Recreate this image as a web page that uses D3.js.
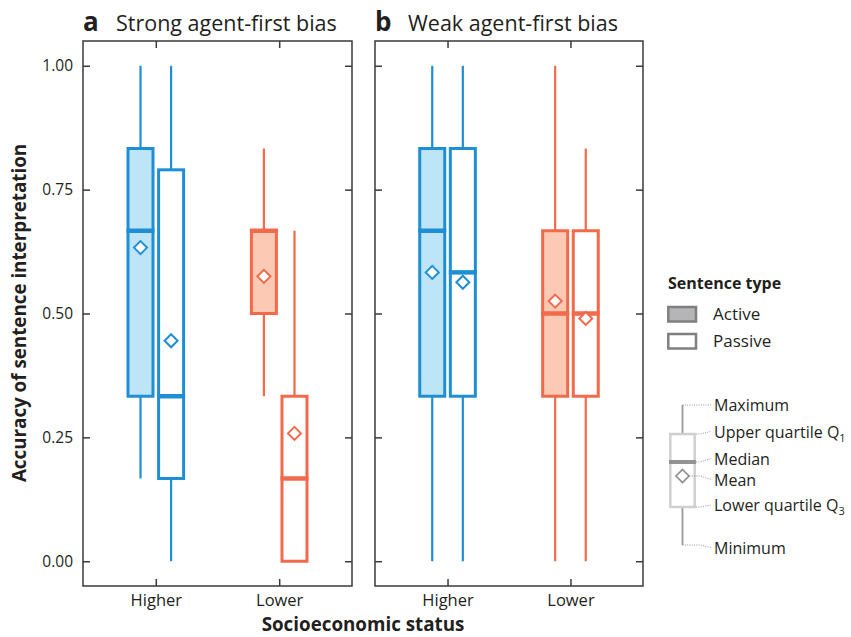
<!DOCTYPE html>
<html><head><meta charset="utf-8">
<script src="https://cdn.jsdelivr.net/npm/d3@7"></script>
<style>body{margin:0;background:#fff}svg{display:block}text{font-family:"Open Sans",sans-serif;fill:#231f20}</style>
</head><body>
<script>
// ---- data ----
const panelLetters = ["a", "b"];
const panelTitles = ["Strong agent-first bias", "Weak agent-first bias"];
const categories = ["Higher", "Lower"];
const sentenceTypes = ["Active", "Passive"];
const yTicks = [0, 0.25, 0.5, 0.75, 1.0];
// order per panel: Higher-Active, Higher-Passive, Lower-Active, Lower-Passive
const minimum       = [[0.167, 0.000, 0.333, 0.000], [0.000, 0.000, 0.000, 0.000]];
const lowerQuartile = [[0.333, 0.167, 0.500, 0.000], [0.333, 0.333, 0.333, 0.333]];
const median        = [[0.667, 0.333, 0.667, 0.167], [0.667, 0.583, 0.500, 0.500]];
const upperQuartile = [[0.833, 0.790, 0.667, 0.333], [0.833, 0.833, 0.667, 0.667]];
const maximum       = [[1.000, 1.000, 0.833, 0.667], [1.000, 1.000, 1.000, 0.833]];
const mean          = [[0.633, 0.445, 0.575, 0.258], [0.583, 0.563, 0.525, 0.490]];
const legendParts = ["Maximum", "Upper quartile Q|1", "Median", "Mean", "Lower quartile Q|3", "Minimum"];

const strokeCol = {Higher: "#1e8fd5", Lower: "#f2694b"};
const fillCol = {Higher: "#bde4f7", Lower: "#fbc9b4"};

const W = 851, H = 637;
const svg = d3.select("body").append("svg").attr("width", W).attr("height", H);

const plotTop = 41, plotBottom = 586;
const panelX = [[83, 352], [375, 643]];
const y = d3.scaleLinear().domain([-0.05, 1.05]).range([plotBottom, plotTop]);

panelX.forEach((px, pi) => {
  const g = svg.append("g");
  const x = d3.scalePoint().domain(categories).range(px).padding(0.59);
  const off = d3.scalePoint().domain(sentenceTypes).range([-15.3, 15.3]);
  g.append("rect").attr("x", px[0]).attr("y", plotTop).attr("width", px[1] - px[0]).attr("height", plotBottom - plotTop)
    .attr("fill", "none").attr("stroke", "#3a3a3a").attr("stroke-width", 1.5);
  const tl = 7;
  const axL = d3.axisLeft(y).tickValues(yTicks).tickSizeInner(-tl).tickSizeOuter(0).tickFormat(pi === 0 ? d3.format(".2f") : () => "");
  const gl = g.append("g").attr("transform", `translate(${px[0]},0)`).call(axL);
  const axR = d3.axisRight(y).tickValues(yTicks).tickSizeInner(-tl).tickSizeOuter(0).tickFormat(() => "");
  const gr = g.append("g").attr("transform", `translate(${px[1]},0)`).call(axR);
  const axB = d3.axisBottom(x).tickSizeInner(-tl).tickSizeOuter(0);
  const gb = g.append("g").attr("transform", `translate(0,${plotBottom})`).call(axB);
  const axT = d3.axisTop(x).tickSizeInner(-tl).tickSizeOuter(0).tickFormat(() => "");
  const gt = g.append("g").attr("transform", `translate(0,${plotTop})`).call(axT);
  [gl, gr, gb, gt].forEach(a => {
    a.select(".domain").remove();
    a.selectAll("line").attr("stroke", "#3a3a3a").attr("stroke-width", 1.5);
    a.selectAll("text").attr("font-family", "'Open Sans',sans-serif").attr("fill", "#231f20");
  });
  gl.selectAll("text").attr("font-size", 15.5).attr("x", -10);
  gb.selectAll("text").attr("font-size", 16.5).attr("y", 8);

  svg.append("text").attr("x", px[0]).attr("y", 31).attr("font-size", 26).attr("font-weight", "bold").text(panelLetters[pi]);
  svg.append("text").attr("x", px[0] + 33).attr("y", 31).attr("font-size", 21.5).text(panelTitles[pi]);

  const bw = 25;
  categories.forEach((c, ci) => {
    sentenceTypes.forEach((s, si) => {
      const k = ci * 2 + si;
      const cx = x(c) + off(s);
      const col = strokeCol[c];
      g.append("line").attr("x1", cx).attr("x2", cx).attr("y1", y(maximum[pi][k])).attr("y2", y(upperQuartile[pi][k]))
        .attr("stroke", col).attr("stroke-width", 2.2);
      g.append("line").attr("x1", cx).attr("x2", cx).attr("y1", y(lowerQuartile[pi][k])).attr("y2", y(minimum[pi][k]))
        .attr("stroke", col).attr("stroke-width", 2.2);
      g.append("rect").attr("x", cx - bw / 2).attr("width", bw)
        .attr("y", y(upperQuartile[pi][k])).attr("height", y(lowerQuartile[pi][k]) - y(upperQuartile[pi][k]))
        .attr("fill", si === 0 ? fillCol[c] : "#fff").attr("stroke", col).attr("stroke-width", 3);
      g.append("line").attr("x1", cx - bw / 2 - 1.5).attr("x2", cx + bw / 2 + 1.5)
        .attr("y1", y(median[pi][k])).attr("y2", y(median[pi][k]))
        .attr("stroke", col).attr("stroke-width", 4.5);
      const d = 6.5, my = y(mean[pi][k]);
      g.append("path").attr("d", `M${cx},${my - d}L${cx + d},${my}L${cx},${my + d}L${cx - d},${my}Z`)
        .attr("fill", "#fff").attr("stroke", col).attr("stroke-width", 2);
    });
  });
});

svg.append("text").attr("transform", `translate(26,${313}) rotate(-90)`)
  .attr("text-anchor", "middle").attr("font-weight", "bold").attr("font-size", 18.8)
  .text("Accuracy of sentence interpretation");
svg.append("text").attr("x", 363).attr("y", 631).attr("text-anchor", "middle")
  .attr("font-weight", "bold").attr("font-size", 18.8).text("Socioeconomic status");

const lg = svg.append("g");
lg.append("text").attr("x", 668).attr("y", 289).attr("font-weight", "bold").attr("font-size", 16).text("Sentence type");
sentenceTypes.forEach((s, i) => {
  const yy = 307 + i * 27;
  lg.append("rect").attr("x", 668.3).attr("y", yy).attr("width", 27.7).attr("height", 14.5)
    .attr("fill", i === 0 ? "#b5b5b7" : "#fff").attr("stroke", "#7f7f80").attr("stroke-width", 2.5);
  lg.append("text").attr("x", 713).attr("y", yy + 13).attr("font-size", 17).text(s);
});

const ex = svg.append("g");
const exY = [405, 434, 462, 476, 507, 545];
const bx = 682.5;
ex.append("line").attr("x1", bx).attr("x2", bx).attr("y1", exY[0]).attr("y2", exY[5]).attr("stroke", "#9a9a9a").attr("stroke-width", 1.8);
ex.append("rect").attr("x", bx - 12.2).attr("width", 24.4).attr("y", exY[1]).attr("height", exY[4] - exY[1])
  .attr("fill", "#fff").attr("stroke", "#d0d0d0").attr("stroke-width", 2.5);
ex.append("line").attr("x1", bx - 13.5).attr("x2", bx + 13.5).attr("y1", exY[2]).attr("y2", exY[2]).attr("stroke", "#939393").attr("stroke-width", 4);
const dd = 6.5;
ex.append("path").attr("d", `M${bx},${exY[3] - dd}L${bx + dd},${exY[3]}L${bx},${exY[3] + dd}L${bx - dd},${exY[3]}Z`)
  .attr("fill", "#fff").attr("stroke", "#8c8c8c").attr("stroke-width", 1.6);
const textY = [411, 437.5, 464.5, 485.5, 511, 553.5];
const startX = [bx, bx + 13.5, bx + 13.5, bx + 7, bx + 13.5, bx];
legendParts.forEach((p, i) => {
  ex.append("path").attr("d", `M${startX[i]},${exY[i]}L700,${exY[i]}L711,${textY[i] - 6}`)
    .attr("fill", "none").attr("stroke", "#8a8a8a").attr("stroke-width", 0.9).attr("stroke-dasharray", "1,1.3");
  const [main, sub] = p.split("|");
  const t = ex.append("text").attr("x", 714).attr("y", textY[i]).attr("font-size", 16).text(main);
  if (sub) t.append("tspan").attr("font-size", 11).attr("dy", 4).text(sub);
});
</script>
</body></html>
